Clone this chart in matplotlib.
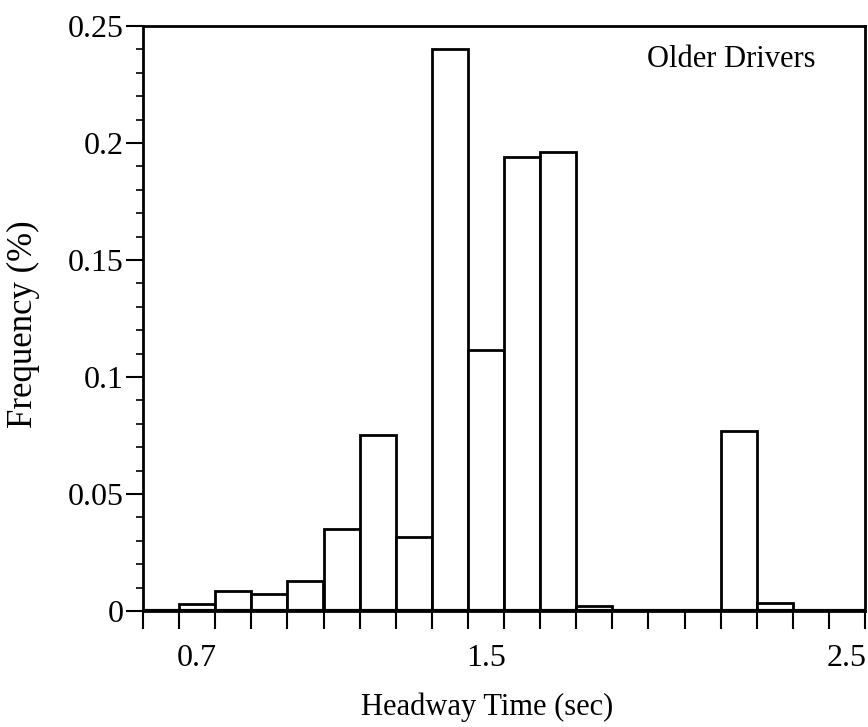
import numpy as np
import matplotlib
matplotlib.use("Agg")
import matplotlib.pyplot as plt
from matplotlib.ticker import MultipleLocator, FixedLocator, NullFormatter

# bin centres (sec) and relative frequency
centers = [0.7, 0.8, 0.9, 1.0, 1.1, 1.2, 1.3, 1.4, 1.5, 1.6, 1.7, 1.8, 1.9, 2.0, 2.1, 2.2, 2.3]
freq = [0.0031, 0.0085, 0.0071, 0.0128, 0.035, 0.0752, 0.0316, 0.240, 0.1115,
        0.194, 0.196, 0.0023, 0.0, 0.0, 0.0, 0.077, 0.0033]
bin_width = 0.1
x_labels = [0.7, 1.5, 2.5]
y_ticks = [0, 0.05, 0.1, 0.15, 0.2, 0.25]
y_ticklabels = ["0", "0.05", "0.1", "0.15", "0.2", "0.25"]

plt.rcParams['font.family'] = ['Liberation Serif', 'DejaVu Serif']

fig = plt.figure(figsize=(8.68, 7.27), dpi=100)
ax = fig.add_axes([143 / 868, 116 / 727, (865 - 143) / 868, (611 - 26) / 727])

ax.bar(centers, freq, width=bin_width, color='white', edgecolor='black', linewidth=2, zorder=2)
ax.axhline(0, color='black', linewidth=3, zorder=3)

ax.set_xlim(0.55, 2.55)
ax.set_ylim(0, 0.25)

# x: ticks on bin edges, labels on bin centres
edges = np.round(np.arange(0.55, 2.56, 0.1), 2)
ax.xaxis.set_major_locator(FixedLocator(edges))
ax.xaxis.set_major_formatter(NullFormatter())
ax.xaxis.set_minor_locator(FixedLocator(x_labels))
ax.set_xticklabels([str(v) for v in x_labels], minor=True)
ax.tick_params(axis='x', which='major', direction='out', length=13, width=1.5)
ax.tick_params(axis='x', which='minor', length=0, pad=24, labelsize=23)

ax.set_yticks(y_ticks)
ax.set_yticklabels(y_ticklabels)
ax.yaxis.set_minor_locator(MultipleLocator(0.01))
ax.tick_params(axis='y', which='major', direction='out', length=12, width=1.5, labelsize=23, pad=2)
ax.tick_params(axis='y', which='minor', direction='out', length=5, width=1.2)

for s in ax.spines.values():
    s.set_linewidth(2)

ax.set_xlabel("Headway Time (sec)", fontsize=22)
ax.xaxis.set_label_coords(0.476, -0.139)
ax.set_ylabel("Frequency (%)", fontsize=25)
ax.yaxis.set_label_coords(-0.143, 0.49)
ax.text(0.931, 0.942, "Older Drivers", transform=ax.transAxes, ha='right', va='center', fontsize=22)

fig.savefig("out.png", dpi=100)
